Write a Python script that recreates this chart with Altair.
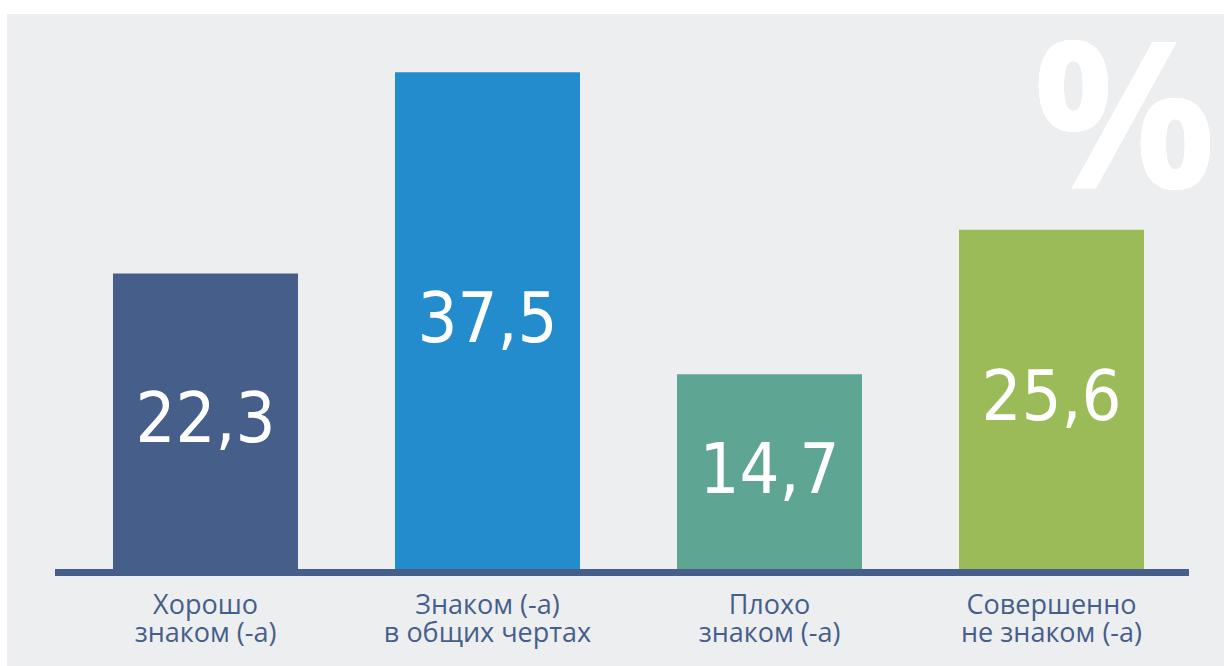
import altair as alt
import pandas as pd

categories = ["Хорошо\nзнаком (-а)", "Знаком (-а)\nв общих чертах", "Плохо\nзнаком (-а)", "Совершенно\nне знаком (-а)"]
values = [22.3, 37.5, 14.7, 25.6]
labels = ["22,3", "37,5", "14,7", "25,6"]
colors = ["#465e8a", "#238ccd", "#5ea593", "#9bbb59"]

df = pd.DataFrame({"cat": categories, "value": values, "label": labels})

W, H = 1128, 555
PL, PT = 64.5, 14
YMAX = 555 / 13.25

x = alt.X("cat:N", sort=categories, title=None,
          scale=alt.Scale(paddingInner=0.344, paddingOuter=0.172),
          axis=alt.Axis(domain=False, ticks=False, labelAngle=0, labelPadding=23, zindex=2,
                        labelLimit=0, labelFont="Open Sans", labelFontSize=27, labelLineHeight=28,
                        labelColor="#465e8a", labelExpr="split(datum.label, '\\n')"))
yscale = alt.Scale(domain=[0, YMAX], nice=False, zero=False)

base = alt.Chart(df)

panel = base.mark_rect(color="#edeef0").encode(
    x=alt.value(7 - PL), x2=alt.value(1224 - PL), y=alt.value(0), y2=alt.value(666 - PT))

pct = base.mark_text(text="%", font="Open Sans", fontWeight="bold", fontSize=204,
                     color="white", align="center", baseline="middle").encode(
    x=alt.value(1124.5 - PL), y=alt.value(127 - PT))

bars = base.mark_bar().encode(
    x=x,
    y=alt.Y("value:Q", scale=yscale, axis=None),
    color=alt.Color("cat:N", sort=categories, scale=alt.Scale(domain=categories, range=colors), legend=None),
)

txt = base.transform_calculate(mid="datum.value / 2").mark_text(
    font="'DejaVu Sans Condensed', Roboto, sans-serif", fontSize=70,
    color="white", align="center", baseline="middle"
).encode(x=x, y=alt.Y("mid:Q", scale=yscale, axis=None), text="label:N")

rule = base.mark_rule(color="#465e8a", strokeWidth=7).encode(
    x=alt.value(55 - PL), x2=alt.value(1189 - PL), y=alt.value(572.5 - PT))

chart = alt.layer(panel, pct, bars, txt, rule).properties(
    width=W, height=H, background="white",
    padding={"left": PL, "top": PT, "right": 1224 - PL - W, "bottom": 666 - PT - H},
    autosize=alt.AutoSizeParams(type="none"),
).configure_view(stroke=None)

chart.save("out.html", embed_options={"renderer": "svg", "actions": False})
